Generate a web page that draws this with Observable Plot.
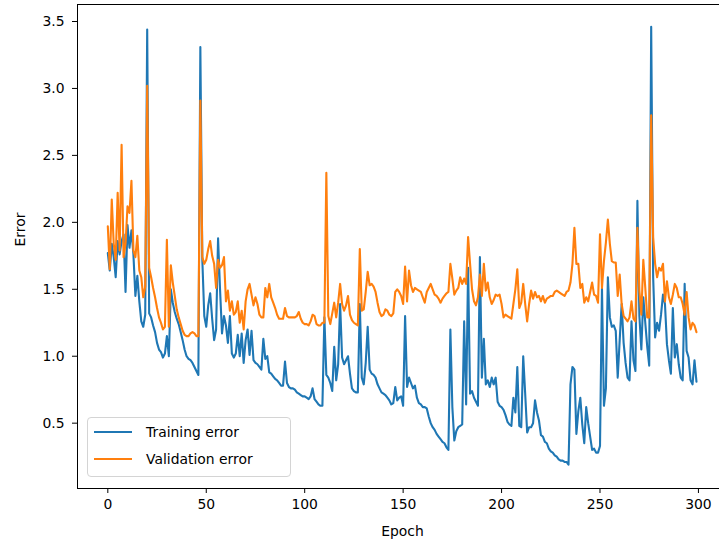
<!DOCTYPE html>
<html>
<head>
<meta charset="utf-8">
<script src="https://cdn.jsdelivr.net/npm/d3@7"></script>
<script src="https://cdn.jsdelivr.net/npm/@observablehq/plot@0.6"></script>
<style>
  html, body { margin: 0; padding: 0; background: #ffffff; overflow: hidden; }
  #wrap { position: relative; width: 719px; height: 545px; }
  .legend { position: absolute; left: 87px; top: 417px; width: 204px; height: 60px;
    border: 1px solid #d4d4d4; border-radius: 4px; background: rgba(255,255,255,0.8);
    font-family: "DejaVu Sans", sans-serif; font-size: 13.9px; color: #000; box-sizing: border-box; }
  .legend .row { position: absolute; left: 0; height: 20px; display: flex; align-items: center; }
  .legend svg { display: block; }
  .legend span { margin-left: 13px; white-space: nowrap; }
</style>
</head>
<body>
<div id="wrap"></div>
<script>
// ---- data ----
const seriesNames = ["Training error", "Validation error"];
const seriesColors = ["#1f77b4", "#ff7f0e"];
const xTicks = [0, 50, 100, 150, 200, 250, 300];
const yTicks = [0.5, 1.0, 1.5, 2.0, 2.5, 3.0, 3.5];

const trainingError = [
  1.77, 1.64, 1.84, 1.74, 1.59, 1.86, 1.76, 1.86, 1.91, 1.48,
  1.98, 1.81, 1.94, 1.76, 1.45, 1.60, 1.41, 1.26, 1.22, 1.31,
  3.44, 1.32, 1.29, 1.23, 1.18, 1.10, 1.05, 1.03, 0.99, 1.02,
  1.15, 1.00, 1.50, 1.40, 1.33, 1.28, 1.24, 1.18, 1.12, 1.05,
  1.00, 0.98, 0.97, 0.95, 0.92, 0.89, 0.86, 3.31, 1.72, 1.30,
  1.22, 1.38, 1.47, 1.28, 1.12, 1.20, 1.88, 1.50, 1.17, 1.30,
  1.23, 1.10, 1.30, 1.02, 0.99, 1.02, 1.16, 1.00, 1.17, 0.95,
  1.12, 1.20, 1.01, 1.19, 0.97, 0.95, 0.94, 0.92, 0.90, 1.13,
  0.98, 1.00, 0.88, 0.87, 0.85, 0.83, 0.82, 0.80, 0.78, 0.78,
  0.96, 0.80, 0.77, 0.76, 0.76, 0.75, 0.73, 0.72, 0.71, 0.70,
  0.70, 0.69, 0.68, 0.70, 0.76, 0.68, 0.66, 0.64, 0.63, 0.63,
  1.29, 0.86, 0.84, 0.80, 0.74, 1.07, 0.82, 0.94, 1.39, 0.99,
  0.94, 0.97, 1.00, 0.87, 0.76, 0.74, 0.73, 0.73, 1.39, 0.84,
  0.79, 0.95, 1.22, 0.90, 0.87, 0.86, 0.84, 0.79, 0.76, 0.73,
  0.72, 0.71, 0.69, 0.67, 0.64, 0.65, 0.77, 0.67, 0.69, 0.70,
  0.63, 1.30, 0.77, 0.84, 0.80, 0.76, 0.78, 0.69, 0.65, 0.64,
  0.62, 0.62, 0.61, 0.55, 0.50, 0.47, 0.45, 0.42, 0.40, 0.38,
  0.36, 0.35, 0.32, 0.30, 1.20, 0.62, 0.37, 0.44, 0.47, 0.48,
  0.49, 1.26, 0.64, 1.66, 0.72, 0.74, 0.69, 0.66, 0.63, 1.74,
  0.84, 1.13, 0.79, 0.82, 0.77, 0.84, 0.79, 0.84, 0.66, 0.63,
  0.62, 0.60, 0.56, 0.51, 0.49, 0.48, 0.69, 0.58, 0.92, 0.48,
  0.47, 1.00, 0.72, 0.43, 0.47, 0.47, 0.50, 0.67, 0.58, 0.52,
  0.41, 0.40, 0.36, 0.35, 0.31, 0.29, 0.28, 0.26, 0.25, 0.23,
  0.22, 0.22, 0.21, 0.21, 0.19, 0.79, 0.92, 0.90, 0.42, 0.59,
  0.69, 0.49, 0.35, 0.62, 0.50, 0.40, 0.30, 0.31, 0.28, 0.28,
  0.33, 1.51, 0.63, 0.76, 1.59, 1.29, 1.22, 1.23, 1.19, 0.84,
  1.12, 1.39, 1.10, 0.95, 0.84, 0.82, 1.26, 0.97, 0.89, 2.16,
  1.30, 1.05, 1.44, 1.25, 1.07, 0.93, 3.46, 1.59, 1.14, 1.25,
  1.19, 1.31, 1.46, 1.39, 1.09, 0.97, 0.87, 1.36, 0.99, 1.09,
  0.94, 0.84, 0.82, 1.54, 1.04, 0.99, 0.82, 0.79, 0.97, 0.81
];

const validationError = [
  1.97, 1.65, 2.17, 1.84, 1.72, 2.22, 1.79, 2.58, 1.74, 1.84,
  2.12, 2.07, 2.31, 1.79, 1.74, 1.90, 1.64, 1.59, 1.44, 1.52,
  3.02, 1.66, 1.59, 1.51, 1.44, 1.36, 1.29, 1.25, 1.20, 1.22,
  1.87, 1.22, 1.68, 1.55, 1.45, 1.35, 1.29, 1.24, 1.19, 1.16,
  1.15, 1.15, 1.17, 1.18, 1.17, 1.15, 1.15, 2.91, 1.74, 1.69,
  1.72, 1.80, 1.86, 1.75, 1.69, 1.51, 1.72, 1.66, 1.68, 1.74,
  1.41, 1.49, 1.34, 1.41, 1.31, 1.33, 1.41, 1.25, 1.34, 1.20,
  1.41, 1.50, 1.54, 1.46, 1.38, 1.44, 1.39, 1.31, 1.29, 1.29,
  1.51, 1.44, 1.54, 1.44, 1.40, 1.36, 1.31, 1.28, 1.28, 1.28,
  1.36, 1.30, 1.29, 1.29, 1.29, 1.29, 1.30, 1.33, 1.28, 1.25,
  1.24, 1.24, 1.23, 1.26, 1.31, 1.30, 1.24, 1.23, 1.23, 1.25,
  1.25, 2.37, 1.30, 1.24, 1.32, 1.40, 1.29, 1.40, 1.54, 1.39,
  1.34, 1.38, 1.45, 1.31, 1.27, 1.25, 1.24, 1.23, 1.80, 1.34,
  1.35, 1.48, 1.63, 1.53, 1.54, 1.52, 1.48, 1.40, 1.33, 1.30,
  1.31, 1.35, 1.34, 1.31, 1.30, 1.32, 1.48, 1.50, 1.48, 1.45,
  1.39, 1.67, 1.41, 1.64, 1.53, 1.48, 1.51, 1.50, 1.49, 1.48,
  1.44, 1.40, 1.48, 1.51, 1.54, 1.50, 1.46, 1.45, 1.43, 1.40,
  1.43, 1.45, 1.47, 1.48, 1.69, 1.58, 1.46, 1.49, 1.51, 1.59,
  1.54, 1.58, 1.54, 1.89, 1.69, 1.50, 1.41, 1.38, 1.44, 1.61,
  1.45, 1.69, 1.49, 1.55, 1.44, 1.39, 1.42, 1.46, 1.45, 1.46,
  1.39, 1.29, 1.31, 1.30, 1.29, 1.28, 1.39, 1.50, 1.65, 1.36,
  1.40, 1.54, 1.39, 1.26, 1.39, 1.49, 1.43, 1.48, 1.44, 1.45,
  1.41, 1.45, 1.40, 1.43, 1.44, 1.45, 1.45, 1.48, 1.49, 1.48,
  1.47, 1.46, 1.45, 1.48, 1.49, 1.55, 1.69, 1.96, 1.69, 1.69,
  1.51, 1.54, 1.40, 1.44, 1.41, 1.48, 1.55, 1.46, 1.45, 1.40,
  1.91, 1.51, 1.71, 1.85, 2.02, 1.84, 1.71, 1.70, 1.70, 1.45,
  1.61, 1.39, 1.30, 1.28, 1.26, 1.29, 1.41, 1.28, 1.26, 1.96,
  1.49, 1.31, 1.72, 1.51, 1.29, 1.29, 2.80, 1.89, 1.69, 1.59,
  1.66, 1.64, 1.69, 1.41, 1.56, 1.44, 1.39, 1.46, 1.54, 1.51,
  1.44, 1.44, 1.39, 1.31, 1.48, 1.29, 1.20, 1.25, 1.23, 1.18
];

// ---- build table ----
const seriesValues = [trainingError, validationError];
const rows = [];
seriesNames.forEach((name, s) => {
  seriesValues[s].forEach((v, i) => rows.push({epoch: i, error: v, series: name}));
});

const xDomain = [-15.4, 310.7];
const yDomain = [0.012, 3.627];

const chart = Plot.plot({
  width: 719,
  height: 545,
  marginLeft: 77,
  marginRight: 0,
  marginTop: 4,
  marginBottom: 57,
  style: {fontFamily: "DejaVu Sans, sans-serif", fontSize: "13.9px", color: "#000", background: "#fff", overflow: "visible"},
  x: {domain: xDomain},
  y: {domain: yDomain},
  color: {domain: seriesNames, range: seriesColors},
  marks: [
    Plot.axisX({ticks: xTicks, tickSize: 5, tickPadding: 6, tickFormat: d => String(d), label: null}),
    Plot.axisY({ticks: yTicks, tickSize: 5, tickPadding: 8, tickFormat: d3.format(".1f"), label: null}),
    Plot.ruleX([xDomain[0]], {stroke: "#000", strokeWidth: 1}),
    Plot.ruleY(yDomain, {stroke: "#000", strokeWidth: 1}),
    Plot.line(rows, {x: "epoch", y: "error", z: "series", stroke: "series", strokeWidth: 2.1, strokeLinejoin: "round"}),
    Plot.text(["Epoch"], {text: d => d, frameAnchor: "bottom", dy: 47, dx: 4, fill: "#000"}),
    Plot.text(["Error"], {text: d => d, frameAnchor: "left", dx: -57, rotate: -90, fill: "#000"})
  ]
});

const wrap = document.getElementById("wrap");
wrap.appendChild(chart);

// ---- legend (inside the axes, lower left) ----
const legend = document.createElement("div");
legend.className = "legend";
seriesNames.forEach((name, i) => {
  const row = document.createElement("div");
  row.className = "row";
  row.style.top = (4 + i * 27) + "px";
  row.style.left = "5px";
  row.innerHTML = `<svg width="40" height="20"><line x1="1" y1="10" x2="39" y2="10" stroke="${seriesColors[i]}" stroke-width="2.1"/></svg><span>${name}</span>`;
  legend.appendChild(row);
});
wrap.appendChild(legend);
</script>
</body>
</html>
